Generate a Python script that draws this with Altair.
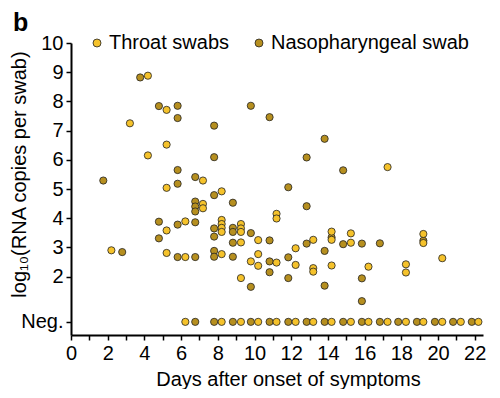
import altair as alt
import pandas as pd

FONT = "Liberation Sans"
NEG = 0.45  # position of the "Neg." level on the log10 axis

# Throat swabs: day position (as read) and log10 copies
throat_day = [2.2, 3.21, 4.19, 4.19, 5.21, 5.21, 5.21, 5.21, 5.21, 6.23, 6.23,
              7.19, 7.19, 7.19, 8.21, 8.21, 8.21, 8.21, 8.21, 8.21,
              9.26, 9.26, 9.26, 9.26, 9.26, 9.80, 10.2, 10.2, 10.2,
              11.2, 11.2, 11.2, 12.24, 12.24, 13.2, 13.2, 13.2,
              14.2, 14.2, 14.2, 15.25, 15.25, 16.21, 17.25, 18.25, 18.25,
              19.2, 19.2, 20.23]
throat_val = [2.90, 7.25, 8.88, 6.15, 7.71, 6.52, 5.04, 3.58, 2.81, 3.89, 2.67,
              5.29, 4.49, 4.34, 4.92, 3.94, 3.80, 3.67, 3.53, 2.77,
              3.80, 3.65, 3.53, 3.17, 1.95, 2.52, 3.25, 2.77, 2.37,
              4.15, 3.99, 2.48, 2.97, 2.40, 3.26, 2.29, 2.17,
              3.54, 3.26, 2.38, 3.48, 3.16, 2.34, 5.75, 2.42, 2.14,
              3.46, 3.15, 2.63]
throat_neg_day = [6.23, 8.21, 9.26, 10.2, 11.2, 12.24, 13.2, 14.2, 15.25,
                  16.21, 17.25, 18.25, 19.2, 20.23, 21.24, 22.2]

# Nasopharyngeal swabs
naso_day = [1.76, 2.79, 3.77, 4.79, 4.79, 4.79,
            5.81, 5.81, 5.81, 5.81, 5.81, 5.81,
            6.77, 6.77, 6.77, 6.77, 6.77, 6.77,
            7.8, 7.8, 7.8, 7.8, 7.8, 7.8, 7.8,
            8.82, 8.82, 8.82, 8.82, 8.82,
            9.80, 9.80, 9.80, 10.82, 10.82, 10.82, 10.82,
            11.84, 11.84, 11.84, 12.84, 12.84, 12.84,
            13.82, 13.82, 13.82, 14.2, 14.83, 14.83,
            15.85, 15.85, 15.85, 16.83, 19.2]
naso_val = [5.29, 2.84, 8.82, 7.84, 3.88, 3.31,
            7.85, 7.43, 5.65, 5.18, 3.78, 2.67,
            5.41, 4.57, 4.40, 4.23, 3.86, 2.67,
            7.17, 6.09, 4.79, 3.65, 3.37, 2.88, 2.68,
            4.53, 3.67, 3.53, 3.16, 2.68,
            7.85, 3.49, 1.65, 7.46, 3.24, 2.52, 2.15,
            5.06, 2.66, 1.95, 6.08, 4.41, 3.13,
            6.72, 2.88, 1.69, 3.34, 5.64, 3.11,
            3.13, 1.94, 1.16, 3.14, 3.23]
naso_neg_day = [6.77, 7.8, 8.82, 9.80, 10.82, 11.84, 12.84, 13.82, 14.83,
                15.85, 16.83, 17.83, 18.85, 19.83, 20.82, 21.84]

swab_names = ["Throat swabs", "Nasopharyngeal swab"]
swab_colors = ["#F5C22B", "#B68F1F"]
y_ticks = [NEG, 2, 3, 4, 5, 6, 7, 8, 9, 10]
x_ticks = list(range(0, 23))
panel_label = ["b"]

rows = []
for d, v in zip(naso_day, naso_val):
    rows.append({"day": d, "value": v, "swab": swab_names[1]})
for d in naso_neg_day:
    rows.append({"day": d, "value": NEG, "swab": swab_names[1]})
for d, v in zip(throat_day, throat_val):
    rows.append({"day": d, "value": v, "swab": swab_names[0]})
for d in throat_neg_day:
    rows.append({"day": d, "value": NEG, "swab": swab_names[0]})
df = pd.DataFrame(rows)

points = alt.Chart(df).mark_circle(
    size=52, opacity=1, stroke="#222222", strokeWidth=0.8
).encode(
    x=alt.X("day:Q",
            scale=alt.Scale(domain=[0, 22.45], nice=False, zero=False),
            axis=alt.Axis(values=x_ticks,
                          labelExpr="datum.value % 2 == 0 ? datum.label : ''",
                          title="Days after onset of symptoms",
                          titleX=217, titlePadding=6,
                          labelOverlap=False, labelFlush=False,
                          labelPadding=3, tickSize=5)),
    y=alt.Y("value:Q",
            scale=alt.Scale(domain=[0, 10], nice=False, zero=False),
            axis=alt.Axis(values=y_ticks,
                          labelExpr="datum.value < 1 ? 'Neg.' : datum.label",
                          title="log₁₀(RNA copies per swab)",
                          titleX=-46, titleY=131, titleBaseline="alphabetic",
                          titleAlign="center",
                          labelOverlap=False, labelPadding=3, tickSize=5)),
    color=alt.Color("swab:N",
                    scale=alt.Scale(domain=swab_names, range=swab_colors),
                    sort=swab_names,
                    legend=alt.Legend(orient="none", legendX=16, legendY=-10,
                                      direction="horizontal", title=None,
                                      labelFont=FONT, labelFontSize=20,
                                      labelColor="black", labelLimit=400,
                                      symbolType="circle",
                                      symbolSize=64, symbolStrokeColor="#222222",
                                      symbolStrokeWidth=0.8, labelOffset=2,
                                      columnPadding=19, padding=0)),
)

label = alt.Chart(pd.DataFrame({"panel": panel_label})).mark_text(
    font=FONT, fontSize=25, fontWeight="bold", color="black",
    align="left", baseline="top"
).encode(
    text="panel:N",
    x=alt.value(-58),
    y=alt.value(-32),
)

chart = alt.layer(points, label).properties(
    width=412,
    height=292,
    padding={"left": 63, "top": 35, "right": 8, "bottom": 54},
    autosize=alt.AutoSizeParams(type="none"),
).configure_axis(
    grid=False,
    domainColor="black",
    domainWidth=2,
    tickColor="black",
    tickWidth=1.5,
    labelFont=FONT,
    labelFontSize=20,
    labelColor="black",
    titleFont=FONT,
    titleFontSize=20,
    titleFontWeight="normal",
    titleColor="black",
).configure_view(strokeOpacity=0)

chart.save("out.html", embed_options={"renderer": "svg", "actions": False})
